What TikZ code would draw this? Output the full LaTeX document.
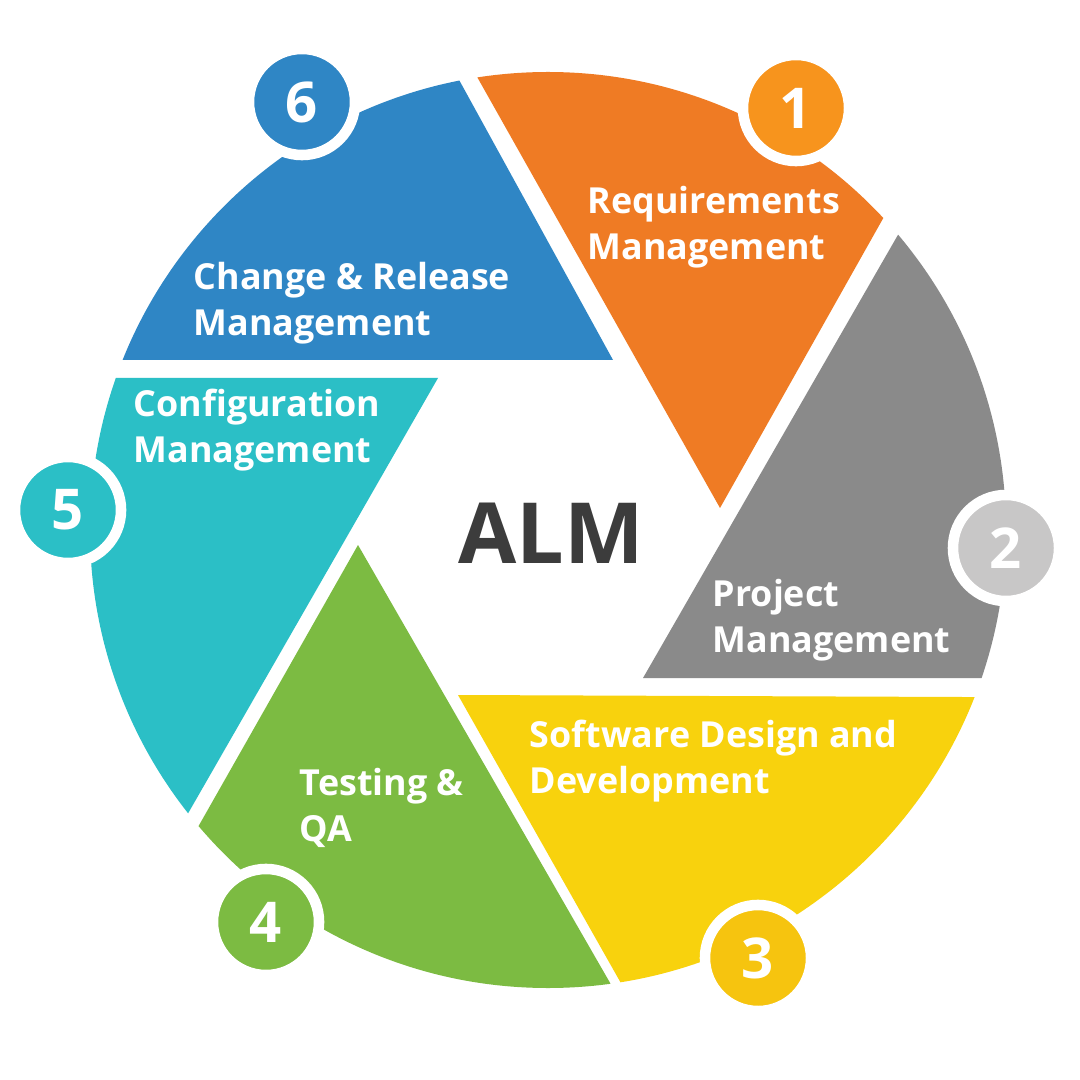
\documentclass[tikz,border=0pt]{standalone}
\usepackage{fontspec}
\setmainfont{Open Sans}
\usetikzlibrary{calc}
\begin{document}
\begin{tikzpicture}[x=0.01cm,y=-0.01cm,
  lbl/.style={text=white,font=\bfseries\fontsize{10.2}{13}\selectfont,align=left,anchor=west,inner sep=0pt},
  badge/.style={circle,draw=white,line width=3pt,minimum size=1.06cm,inner sep=0pt,text=white,font=\bfseries\fontsize{16}{16}\selectfont}]
\definecolor{cOr}{HTML}{EF7B24}\definecolor{cOr2}{HTML}{F7941D}
\definecolor{cGr}{HTML}{8A8A8A}\definecolor{cGr2}{HTML}{C8C7C7}
\definecolor{cYe}{HTML}{F8D20D}\definecolor{cYe2}{HTML}{F6C40F}
\definecolor{cGn}{HTML}{7CBB42}\definecolor{cTe}{HTML}{2BBFC6}
\definecolor{cBl}{HTML}{2F86C5}\definecolor{cTx}{HTML}{3C3C3C}
\useasboundingbox[fill=white] (0,0) rectangle (1080,1080);
\newcommand{\seg}[4]{%
\begin{scope}\clip (548,530) circle [radius=458];
\fill[#1] (#2) -- ($(#2)!3!(#3)$) -- ($(#2)!3!(#4)$) -- cycle;
\end{scope}}
\seg{cOr}{720,508}{476,75}{885,215}
\seg{cGr}{643,678}{895,240}{978,678}
\seg{cYe}{458,695}{963,697}{622,985}
\seg{cGn}{358,545}{613,988}{202,820}
\seg{cTe}{438,378}{190,810}{120,378}
\seg{cBl}{613,360}{132,360}{458,78}
\node[badge,fill=cOr2] (b1) at (796,108) {1};
\node[badge,fill=cGr2] (b2) at (1006,548) {2};
\node[badge,fill=cYe2] (b3) at (758,958) {3};
\node[badge,fill=cGn] (b4) at (266,922) {4};
\node[badge,fill=cTe] (b5) at (68,510) {5};
\node[badge,fill=cBl] (b6) at (302,102) {6};
\node[lbl] (t1) at (587,227) {Requirements\\Management};
\node[lbl] (t2) at (712,620) {Project\\Management};
\node[lbl] (t3) at (529,761) {Software Design and\\Development};
\node[lbl] (t4) at (299,808) {Testing \&\\QA};
\node[lbl] (t5) at (133,430) {Configuration\\Management};
\node[lbl] (t6) at (193,303) {Change \& Release\\Management};
\node[text=cTx,font=\bfseries\fontsize{24}{24}\selectfont] (alm) at (551,533) {ALM};
\end{tikzpicture}
\end{document}
